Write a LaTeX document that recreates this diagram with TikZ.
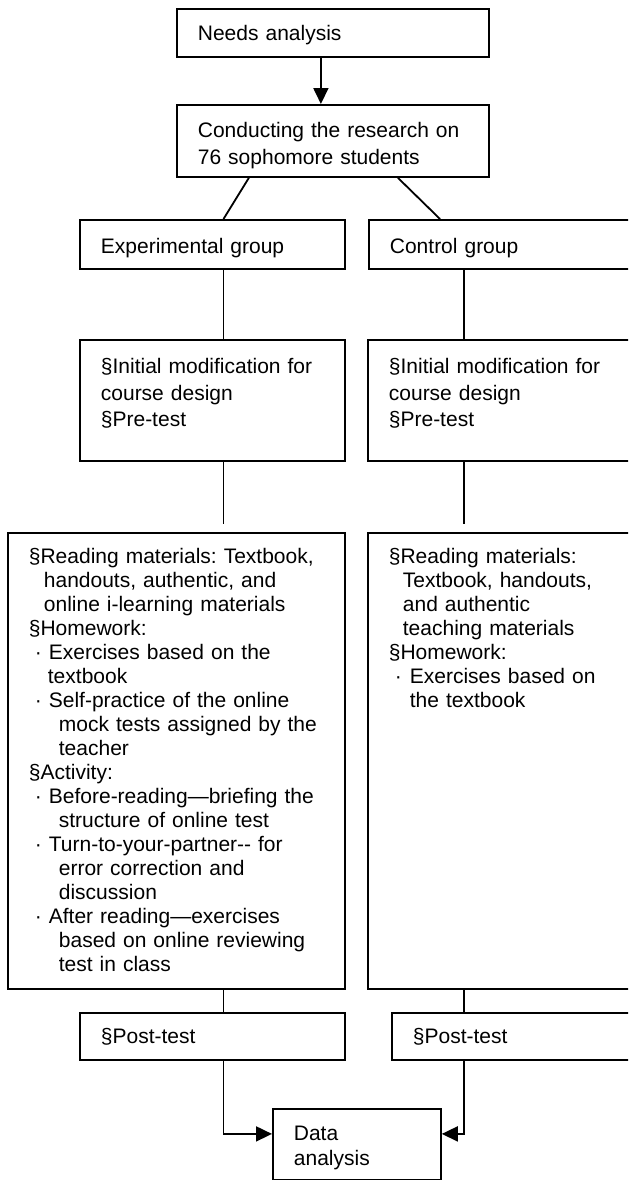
\documentclass[tikz,border=0pt]{standalone}
\usepackage{fontspec}
\setmainfont{Liberation Sans}
\usetikzlibrary{arrows.meta}
\frenchspacing

\begin{document}
\begin{tikzpicture}[x=0.5pt, y=-0.5pt,
    every node/.style={font=\fontsize{10.5}{13.5}\selectfont},
    stagebox/.style={draw, line width=0.9pt, anchor=north west, align=left, inner xsep=10.5pt, inner ysep=0pt},
    listbox/.style={stagebox, font=\fontsize{10.5}{12}\selectfont},
    link/.style={line width=0.9pt},
    flow/.style={link, -{Triangle[length=8pt, width=7.5pt]}}]
    \useasboundingbox (0,0) rectangle (628,1180);
    \clip (0,0) rectangle (628,1180);

    % Column lines
    \coordinate (colE) at (223.5,0);
    \coordinate (colC) at (464,0);

    % Top of the design
    \node[stagebox, text width=135pt, text height=16pt, text depth=8pt] (needs) at (176,8) {Needs analysis};
    \node[stagebox, text width=135pt, text height=16.5pt, text depth=19.5pt] (conduct) at (176,104) {Conducting the research on\\76 sophomore students};

    % Two groups
    \node[stagebox, text width=111.5pt, text height=17pt, text depth=7.5pt] (expgrp) at (79,219) {Experimental group};
    \node[stagebox, text width=115pt, text height=17pt, text depth=7.5pt] (ctlgrp) at (368,219) {Control group};

    \node[stagebox, text width=111.5pt, text height=17pt, text depth=43.5pt, font=\fontsize{10.5}{13.25}\selectfont] (expinit) at (79,339) {§Initial modification for\\course design\\§Pre-test};
    \node[stagebox, text width=115.5pt, text height=17pt, text depth=43.5pt, font=\fontsize{10.5}{13.25}\selectfont] (ctlinit) at (367,339) {§Initial modification for\\course design\\§Pre-test};

    % Treatment
    \node[listbox, text width=147.5pt, text height=15.5pt, text depth=212.5pt] (expread) at (7,532) {§Reading materials: Textbook,\\
        \hspace*{7.5pt}handouts, authentic, and\\
        \hspace*{7.5pt}online i-learning materials\\
        §Homework:\\
        \hspace*{3pt}·\hspace*{3.5pt}Exercises based on the\\
        \hspace*{9.5pt}textbook\\
        \hspace*{3pt}·\hspace*{3.5pt}Self-practice of the online\\
        \hspace*{15pt}mock tests assigned by the\\
        \hspace*{15pt}teacher\\
        §Activity:\\
        \hspace*{3pt}·\hspace*{3.5pt}Before-reading—briefing the\\
        \hspace*{15pt}structure of online test\\
        \hspace*{3pt}·\hspace*{3.5pt}Turn-to-your-partner-{}- for\\
        \hspace*{15pt}error correction and\\
        \hspace*{15pt}discussion\\
        \hspace*{3pt}·\hspace*{3.5pt}After reading—exercises\\
        \hspace*{15pt}based on online reviewing\\
        \hspace*{15pt}test in class};
    \node[listbox, text width=115.5pt, text height=15.5pt, text depth=212.5pt] (ctlread) at (367,532) {§Reading materials:\\
        \hspace*{7pt}Textbook, handouts,\\
        \hspace*{7pt}and authentic\\
        \hspace*{7pt}teaching materials\\
        §Homework:\\
        \hspace*{3pt}·\hspace*{4pt}Exercises based on\\
        \hspace*{10.5pt}the textbook};

    \node[stagebox, text width=111.5pt, text height=15.5pt, text depth=8pt] (exppost) at (79,1012) {§Post-test};
    \node[stagebox, text width=103.5pt, text height=15.5pt, text depth=8pt] (ctlpost) at (391,1012) {§Post-test};

    \node[stagebox, text width=63pt, text height=16pt, text depth=19.5pt, font=\fontsize{10.5}{12.5}\selectfont] (data) at (272,1108) {Data\\analysis};

    % Connectors
    \draw[flow] ([xshift=-6pt]needs.south) -- ([xshift=-6pt]conduct.north);
    \draw[link] ([xshift=-42pt]conduct.south) -- (expgrp.north -| colE);
    \draw[link] ([xshift=32.5pt]conduct.south) -- ([xshift=36pt]ctlgrp.north west);
    \draw[link] (expgrp.south -| colE) -- (expinit.north -| colE);
    \draw[link] (ctlgrp.south -| colC) -- (ctlinit.north -| colC);
    \draw[link, shorten >=4pt] (expinit.south -| colE) -- (expread.north -| colE);
    \draw[link, shorten >=4pt] (ctlinit.south -| colC) -- (ctlread.north -| colC);
    \draw[link] (expread.south -| colE) -- (exppost.north -| colE);
    \draw[link] (ctlread.south -| colC) -- (ctlpost.north -| colC);
    \draw[flow] (exppost.south -| colE) |- ([yshift=5.25pt]data.west);
    \draw[flow] (ctlpost.south -| colC) |- ([yshift=5.25pt]data.east);
\end{tikzpicture}
\end{document}
